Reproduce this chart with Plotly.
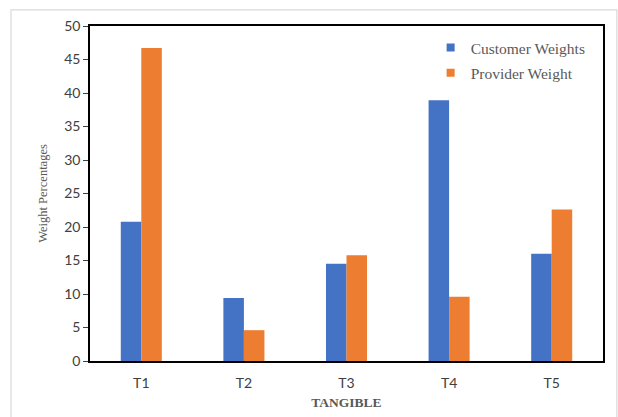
import plotly.graph_objects as go

categories = ["T1", "T2", "T3", "T4", "T5"]
customer_weights = [20.8, 9.4, 14.5, 38.9, 16.0]
provider_weight = [46.7, 4.6, 15.8, 9.6, 22.6]
y_ticks = [0, 5, 10, 15, 20, 25, 30, 35, 40, 45, 50]

series = [("Customer Weights", customer_weights, "#4472C4"),
          ("Provider Weight", provider_weight, "#ED7D31")]

fig = go.Figure()
for name, vals, color in series:
    fig.add_trace(go.Bar(x=categories, y=vals, name=name, legendgroup=name,
                         showlegend=False, marker=dict(color=color, line=dict(width=0))))
# small square legend keys
for name, vals, color in series:
    fig.add_trace(go.Scatter(x=[None], y=[None], mode="markers", name=name, legendgroup=name,
                             marker=dict(symbol="square", size=8, color=color)))

serif = "Liberation Serif, Times New Roman, serif"
sans = "Lato, Calibri, sans-serif"

fig.update_layout(
    width=618, height=417,
    margin=dict(l=90, r=15, t=26, b=56),
    paper_bgcolor="white", plot_bgcolor="white",
    barmode="group", bargap=0.6, bargroupgap=0,
    legend=dict(x=0.664, y=0.985, xanchor="left", yanchor="top",
                font=dict(family=serif, size=15.5, color="#595959"),
                bgcolor="rgba(0,0,0,0)", traceorder="grouped", tracegroupgap=2,
                itemwidth=30),
    xaxis=dict(
        automargin=False,
        showline=True, linecolor="black", linewidth=1.5, mirror=True,
        ticks="outside", ticklen=8, tickcolor="rgba(0,0,0,0)",
        tickfont=dict(family=sans, size=14, color="#404040"),
        title=dict(text="<b>TANGIBLE</b>", font=dict(family=serif, size=13.5, color="#595959"),
                   standoff=8),
    ),
    yaxis=dict(
        automargin=False,
        range=[0, 50], tickvals=y_ticks, showgrid=False, zeroline=False,
        showline=True, linecolor="black", linewidth=1.5, mirror=True,
        ticks="outside", ticklen=5, tickcolor="#404040",
        tickfont=dict(family=sans, size=14, color="#404040"),
        title=dict(text="Weight Percentages", font=dict(family=serif, size=12.5, color="#595959"),
                   standoff=14),
    ),
    shapes=[dict(type="rect", xref="paper", yref="paper",
                 x0=-0.154, x1=1.027, y0=-0.2, y1=1.048,
                 line=dict(color="#d9d9d9", width=1.2), fillcolor="rgba(0,0,0,0)",
                 layer="below")],
)

fig.write_html("out.html")
